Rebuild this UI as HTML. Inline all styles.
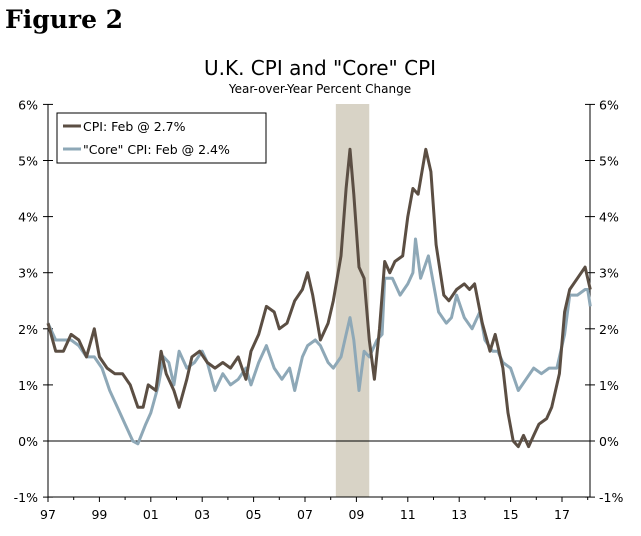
<!DOCTYPE html>
<html><head><meta charset="utf-8"><style>
body{margin:0;background:#fff;width:641px;height:531px;overflow:hidden}
svg{font-family:"DejaVu Sans","Liberation Sans",sans-serif}
</style></head><body>
<svg id="c" width="641" height="531"></svg>
<script>
const yTicks=[6,5,4,3,2,1,0,-1];
const yTickLabels=["6%","5%","4%","3%","2%","1%","0%","-1%"];
const xTicks=[1997,1999,2001,2003,2005,2007,2009,2011,2013,2015,2017];
const xTickLabels=["97","99","01","03","05","07","09","11","13","15","17"];
const recession=[2008.2,2009.5];
const cpiDates=[1997.0,1997.3,1997.6,1997.9,1998.2,1998.5,1998.8,1999.0,1999.3,1999.6,1999.9,2000.2,2000.5,2000.7,2000.9,2001.2,2001.4,2001.6,2001.9,2002.1,2002.4,2002.6,2002.9,2003.2,2003.5,2003.8,2004.1,2004.4,2004.7,2004.9,2005.2,2005.5,2005.8,2006.0,2006.3,2006.6,2006.9,2007.1,2007.3,2007.6,2007.9,2008.1,2008.4,2008.6,2008.75,2008.9,2009.1,2009.3,2009.5,2009.7,2009.9,2010.1,2010.3,2010.5,2010.8,2011.0,2011.2,2011.4,2011.7,2011.9,2012.1,2012.4,2012.6,2012.9,2013.2,2013.4,2013.6,2013.9,2014.2,2014.4,2014.7,2014.9,2015.1,2015.3,2015.5,2015.7,2015.9,2016.1,2016.4,2016.6,2016.9,2017.1,2017.3,2017.6,2017.9,2018.1];
const cpiValues=[2.1,1.6,1.6,1.9,1.8,1.5,2.0,1.5,1.3,1.2,1.2,1.0,0.6,0.6,1.0,0.9,1.6,1.2,0.9,0.6,1.1,1.5,1.6,1.4,1.3,1.4,1.3,1.5,1.1,1.6,1.9,2.4,2.3,2.0,2.1,2.5,2.7,3.0,2.6,1.8,2.1,2.5,3.3,4.5,5.2,4.4,3.1,2.9,1.8,1.1,2.0,3.2,3.0,3.2,3.3,4.0,4.5,4.4,5.2,4.8,3.5,2.6,2.5,2.7,2.8,2.7,2.8,2.1,1.6,1.9,1.3,0.5,0.0,-0.1,0.1,-0.1,0.1,0.3,0.4,0.6,1.2,2.3,2.7,2.9,3.1,2.7];
const coreDates=[1997.0,1997.3,1997.6,1997.9,1998.2,1998.5,1998.8,1999.1,1999.4,1999.7,2000.0,2000.3,2000.5,2000.8,2001.0,2001.3,2001.5,2001.7,2001.9,2002.1,2002.4,2002.7,2003.0,2003.2,2003.5,2003.8,2004.1,2004.4,2004.7,2004.9,2005.2,2005.5,2005.8,2006.1,2006.4,2006.6,2006.9,2007.1,2007.4,2007.6,2007.9,2008.1,2008.4,2008.6,2008.75,2008.9,2009.1,2009.3,2009.5,2009.8,2010.0,2010.1,2010.4,2010.7,2011.0,2011.2,2011.3,2011.5,2011.8,2012.0,2012.2,2012.5,2012.7,2012.9,2013.2,2013.5,2013.8,2014.0,2014.3,2014.5,2014.7,2015.0,2015.3,2015.6,2015.9,2016.2,2016.5,2016.8,2017.1,2017.3,2017.6,2017.9,2018.0,2018.1];
const coreValues=[2.1,1.8,1.8,1.8,1.7,1.5,1.5,1.3,0.9,0.6,0.3,0.0,-0.05,0.3,0.5,1.0,1.5,1.4,1.0,1.6,1.3,1.4,1.6,1.4,0.9,1.2,1.0,1.1,1.3,1.0,1.4,1.7,1.3,1.1,1.3,0.9,1.5,1.7,1.8,1.7,1.4,1.3,1.5,1.9,2.2,1.8,0.9,1.6,1.5,1.8,1.9,2.9,2.9,2.6,2.8,3.0,3.6,2.9,3.3,2.8,2.3,2.1,2.2,2.6,2.2,2.0,2.3,1.8,1.6,1.6,1.4,1.3,0.9,1.1,1.3,1.2,1.3,1.3,1.9,2.6,2.6,2.7,2.7,2.4];

const L=48,R=590,T=104,B=497;
const x=d=>L+(d-1997)*25.7;
const y=v=>441-v*56.1;
const svg=document.getElementById('c');
const NS='http://www.w3.org/2000/svg';
function mk(tag,attrs,parent){const e=document.createElementNS(NS,tag);for(const k in attrs)e.setAttribute(k,attrs[k]);(parent||svg).appendChild(e);return e;}

let t=mk('text',{x:5,y:28,'font-family':'DejaVu Serif,Liberation Serif,serif','font-size':25,'font-weight':'bold',fill:'#000'});t.textContent='Figure 2';


t=mk('text',{x:320,y:75,'text-anchor':'middle','font-size':20,fill:'#000'});t.textContent='U.K. CPI and "Core" CPI';


t=mk('text',{x:320,y:93,'text-anchor':'middle','font-size':12,fill:'#000'});t.textContent='Year-over-Year Percent Change';



let r=mk('rect',{x:x(recession[0]),y:T,width:x(recession[1])-x(recession[0]),height:B-T,fill:'#d8d3c6'});



let a=mk('line',{x1:L,y1:T,x2:L,y2:B,stroke:'#000'});


a=mk('line',{x1:R,y1:T,x2:R,y2:B,stroke:'#000'});


a=mk('line',{x1:L,y1:B,x2:R,y2:B,stroke:'#000'});


a=mk('line',{x1:L,y1:y(0),x2:R,y2:y(0),stroke:'#000'});



yTicks.forEach((v,i)=>{
  mk('line',{x1:L-5,y1:y(v),x2:L+5,y2:y(v),stroke:'#000'});
  mk('line',{x1:R-5,y1:y(v),x2:R+5,y2:y(v),stroke:'#000'});
  let l=mk('text',{x:L-10,y:y(v)+5,'text-anchor':'end','font-size':12.5});l.textContent=yTickLabels[i];
  
  
  l=mk('text',{x:R+9,y:y(v)+5,'font-size':12.5});l.textContent=yTickLabels[i];
  
  
});
xTicks.forEach((d,i)=>{
  mk('line',{x1:x(d),y1:B,x2:x(d),y2:B+5,stroke:'#000'});
  let l=mk('text',{x:x(d),y:B+22,'text-anchor':'middle','font-size':12.5});l.textContent=xTickLabels[i];
  
  
});
for(let d=1997;d<=2018;d++) if(!xTicks.includes(d)) mk('line',{x1:x(d),y1:B,x2:x(d),y2:B+3,stroke:'#000'});

function path(ds,vs){return ds.map((d,i)=>(i?'L':'M')+x(d).toFixed(1)+','+y(vs[i]).toFixed(1)).join('');}
let p=mk('path',{d:path(coreDates,coreValues),fill:'none',stroke:'#8ea8b7','stroke-width':3,'stroke-linejoin':'round'});


p=mk('path',{d:path(cpiDates,cpiValues),fill:'none',stroke:'#5b4e43','stroke-width':3,'stroke-linejoin':'round'});



let g=mk('g',{});


mk('rect',{x:57,y:113,width:209,height:50,fill:'#fff',stroke:'#000'},g);
mk('line',{x1:63,y1:126,x2:81,y2:126,stroke:'#5b4e43','stroke-width':3},g);
t=mk('text',{x:83,y:131,'font-size':12.5},g);t.textContent='CPI: Feb @ 2.7%';


mk('line',{x1:63,y1:149,x2:81,y2:149,stroke:'#8ea8b7','stroke-width':3},g);
t=mk('text',{x:83,y:154,'font-size':12.5},g);t.textContent='"Core" CPI: Feb @ 2.4%';


</script>
</body></html>
